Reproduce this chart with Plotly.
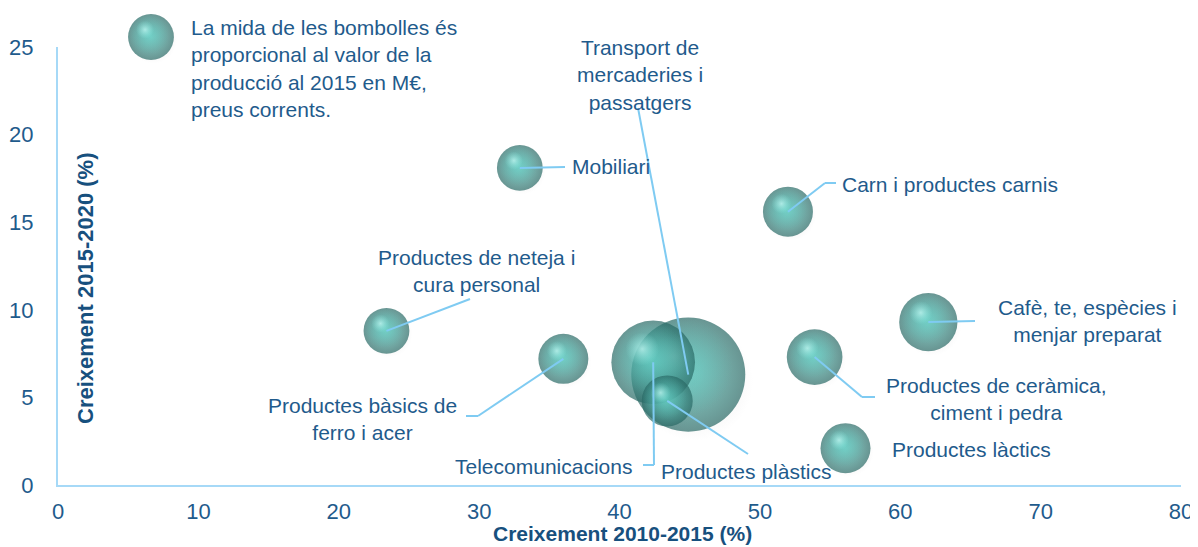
import plotly.graph_objects as go

# ---------------- DATA ----------------
categories = [
    "Transport de mercaderies i passatgers",
    "Telecomunicacions",
    "Productes plàstics",
    "Mobiliari",
    "Carn i productes carnis",
    "Productes de neteja i cura personal",
    "Cafè, te, espècies i menjar preparat",
    "Productes de ceràmica, ciment i pedra",
    "Productes bàsics de ferro i acer",
    "Productes làctics",
]
creixement_2010_2015 = [44.9, 42.4, 43.4, 32.9, 52.0, 23.4, 62.0, 53.9, 36.0, 56.1]
creixement_2015_2020 = [6.3, 7.0, 4.8, 18.1, 15.6, 8.8, 9.3, 7.3, 7.2, 2.1]
produccio_2015 = [13000, 7000, 2600, 2100, 2500, 2100, 3400, 3100, 2500, 2500]  # M€ (estimated)
x_ticks = [0, 10, 20, 30, 40, 50, 60, 70, 80]
y_ticks = [0, 5, 10, 15, 20, 25]
x_title = "Creixement 2010-2015 (%)"
y_title = "Creixement 2015-2020 (%)"
note_text = "La mida de les bombolles és<br>proporcional al valor de la<br>producció al 2015 en M€,<br>preus corrents."
note_value = 2100

# ---------------- LAYOUT / STYLE ----------------
SW, SH = 1198, 547          # browser window (screen pixels)
OFF = 8                     # default page margin around the figure
FW, FH = SW - OFF, SH - OFF  # figure size
X0, X1, Y0, Y1 = 58, 1181, 47, 485   # plot area on screen (left, right, top, bottom)
X_RANGE = [0, 80]
Y_RANGE = [0, 25]
PW, PH = X1 - X0, Y1 - Y0
SIZEREF = 2.0
FONT = "Liberation Sans, Arial, sans-serif"
TXT = "#1f5b8c"
TITLE_COL = "#17507e"
AXIS_COL = "#a6d9f7"
LINE_COL = "#7fcbf2"
LABEL_SIZE = 21


def px_x(px):
    return X_RANGE[0] + (px - X0) / PW * (X_RANGE[1] - X_RANGE[0])


def px_y(py):
    return Y_RANGE[0] + (Y1 - py) / PH * (Y_RANGE[1] - Y_RANGE[0])


def dx_px(d):
    return d / PW * (X_RANGE[1] - X_RANGE[0])


def dy_px(d):
    return d / PH * (Y_RANGE[1] - Y_RANGE[0])


# label placement (screen pixel anchors) and connector waypoints (screen pixels), per category
labels = {
    "Transport de mercaderies i passatgers": dict(text="Transport de<br>mercaderies i<br>passatgers", px=640, py=75, xanchor="center", path=[(638, 108)]),
    "Telecomunicacions": dict(text="Telecomunicacions", px=634, py=466, xanchor="right", path=[(654, 465), (643, 465)]),
    "Productes plàstics": dict(text="Productes plàstics", px=659, py=471, xanchor="left", path=[(748, 454)]),
    "Mobiliari": dict(text="Mobiliari", px=570, py=166, xanchor="left", path=[(565, 167)]),
    "Carn i productes carnis": dict(text="Carn i productes carnis", px=840, py=184, xanchor="left", path=[(825, 183), (836, 183)]),
    "Productes de neteja i cura personal": dict(text="Productes de neteja i<br>cura personal", px=476, py=271, xanchor="center", path=[(470, 299)]),
    "Cafè, te, espècies i menjar preparat": dict(text="Cafè, te, espècies i<br>menjar preparat", px=1087, py=321, xanchor="center", path=[(975, 321)]),
    "Productes de ceràmica, ciment i pedra": dict(text="Productes de ceràmica,<br>ciment i pedra", px=996, py=399, xanchor="center", path=[(862, 397), (875, 397)]),
    "Productes bàsics de ferro i acer": dict(text="Productes bàsics de<br>ferro i acer", px=362, py=419, xanchor="center", path=[(478, 416), (466, 416)]),
    "Productes làctics": dict(text="Productes làctics", px=890, py=449, xanchor="left", path=[]),
}


def diameter(v):
    return 2 * (v / (2 * SIZEREF)) ** 0.5


fig = go.Figure()


def add_sphere(x, y, value, name, xa="x", ya="y", sx=None, sy=None, hover=True):
    sx = sx or dx_px
    sy = sy or dy_px
    d = diameter(value)
    common = dict(xaxis=xa, yaxis=ya, showlegend=False, mode="markers")
    # soft shadow
    fig.add_trace(go.Scatter(
        x=[x + sx(d * 0.05)], y=[y + sy(-d * 0.06)],
        marker=dict(size=[value * 1.08], sizemode="area", sizeref=SIZEREF,
                    color="rgba(140,140,140,0)", gradient=dict(type="radial", color="rgba(80,80,80,0.28)"),
                    line=dict(width=0)),
        hoverinfo="skip", **common))
    # body
    fig.add_trace(go.Scatter(
        x=[x], y=[y], name=name,
        marker=dict(size=[value], sizemode="area", sizeref=SIZEREF,
                    color="#286864", gradient=dict(type="radial", color="#63cdc2"),
                    line=dict(width=0)),
        customdata=[value],
        hovertemplate=(name + "<br>2010-2015: %{x}%<br>2015-2020: %{y}%<br>Producció: %{customdata} M€<extra></extra>") if hover else None,
        hoverinfo=None if hover else "skip",
        **common))
    # mid tone
    fig.add_trace(go.Scatter(
        x=[x - sx(d * 0.05)], y=[y + sy(d * 0.06)],
        marker=dict(size=[value * 0.76], sizemode="area", sizeref=SIZEREF,
                    color="rgba(78,178,170,0)", gradient=dict(type="radial", color="rgba(98,206,196,0.95)"),
                    line=dict(width=0)),
        hoverinfo="skip", **common))
    # highlight
    fig.add_trace(go.Scatter(
        x=[x - sx(d * 0.13)], y=[y + sy(d * 0.16)],
        marker=dict(size=[value * 0.16], sizemode="area", sizeref=SIZEREF,
                    color="rgba(150,240,232,0)", gradient=dict(type="radial", color="rgba(205,255,250,0.95)"),
                    line=dict(width=0)),
        hoverinfo="skip", **common))


for cat, xv, yv, pv in zip(categories, creixement_2010_2015, creixement_2015_2020, produccio_2015):
    add_sphere(xv, yv, pv, cat)

# size-note sphere on a screen-pixel overlay (x2/y2 span the whole figure)
add_sphere(151, 37, note_value, "", xa="x2", ya="y2",
           sx=lambda d: d, sy=lambda d: -d, hover=False)

shapes = []
annotations = []
for cat, xv, yv in zip(categories, creixement_2010_2015, creixement_2015_2020):
    lab = labels[cat]
    pts = [(xv, yv)] + [(px_x(a), px_y(b)) for a, b in lab["path"]]
    for (xa0, ya0), (xa1, ya1) in zip(pts[:-1], pts[1:]):
        shapes.append(dict(type="line", xref="x", yref="y", x0=xa0, y0=ya0, x1=xa1, y1=ya1,
                           line=dict(color=LINE_COL, width=2), layer="above"))
    annotations.append(dict(text=lab["text"], x=lab["px"], y=lab["py"], xref="x2", yref="y2",
                            xanchor=lab["xanchor"], yanchor="middle", align="center", showarrow=False,
                            font=dict(family=FONT, size=LABEL_SIZE, color=TXT)))

annotations.append(dict(text=note_text, x=189, y=68, xref="x2", yref="y2",
                        xanchor="left", yanchor="middle", align="left", showarrow=False,
                        font=dict(family=FONT, size=LABEL_SIZE, color=TXT)))
annotations.append(dict(text="<b>" + x_title + "</b>", x=622, y=533, xref="x2", yref="y2",
                        xanchor="center", yanchor="middle", showarrow=False,
                        font=dict(family=FONT, size=21, color=TITLE_COL)))
annotations.append(dict(text="<b>" + y_title + "</b>", x=85, y=289, xref="x2", yref="y2",
                        xanchor="center", yanchor="middle", textangle=-90, showarrow=False,
                        font=dict(family=FONT, size=22, color=TITLE_COL)))

fig.update_layout(
    width=FW, height=FH,
    margin=dict(l=0, r=0, t=0, b=0, pad=0),
    paper_bgcolor="white", plot_bgcolor="rgba(0,0,0,0)",
    font=dict(family=FONT, color=TXT),
    shapes=shapes, annotations=annotations,
    showlegend=False,
    xaxis=dict(domain=[(X0 - OFF) / FW, (X1 - OFF) / FW], range=X_RANGE, tickvals=x_ticks,
               showgrid=False, zeroline=False,
               showline=True, linecolor=AXIS_COL, linewidth=2, ticks="", automargin=False,
               tickfont=dict(family=FONT, size=22, color=TXT), ticklabelstandoff=6),
    yaxis=dict(domain=[(SH - Y1) / FH, (SH - Y0) / FH], range=Y_RANGE, tickvals=y_ticks,
               showgrid=False, zeroline=False,
               showline=True, linecolor=AXIS_COL, linewidth=2, ticks="", automargin=False,
               tickfont=dict(family=FONT, size=22, color=TXT), ticklabelstandoff=18),
    xaxis2=dict(domain=[0, 1], range=[OFF, SW], visible=False, fixedrange=True, anchor="y2"),
    yaxis2=dict(domain=[0, 1], range=[SH, OFF], visible=False, fixedrange=True, anchor="x2"),
)

fig.write_html("out.html")
